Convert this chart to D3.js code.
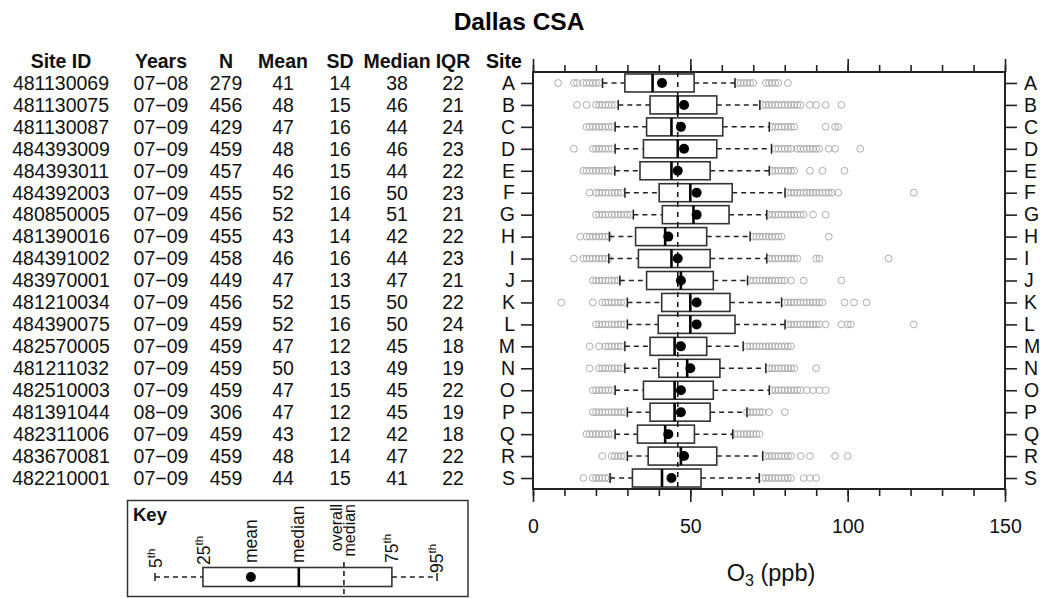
<!DOCTYPE html>
<html>
<head>
<meta charset="utf-8">
<script src="https://cdn.jsdelivr.net/npm/d3@7"></script>
<style>
  html, body { margin: 0; padding: 0; background: #fff; }
  svg { display: block; }
</style>
</head>
<body>
<script>
// ---------------- DATA ----------------
const sites = ["A","B","C","D","E","F","G","H","I","J","K","L","M","N","O","P","Q","R","S"];
const siteIds = ["481130069","481130075","481130087","484393009","484393011","484392003","480850005","481390016","484391002","483970001","481210034","484390075","482570005","481211032","482510003","481391044","482311006","483670081","482210001"];
const years = ["07\u221208","07\u221209","07\u221209","07\u221209","07\u221209","07\u221209","07\u221209","07\u221209","07\u221209","07\u221209","07\u221209","07\u221209","07\u221209","07\u221209","07\u221209","08\u221209","07\u221209","07\u221209","07\u221209"];
const nObs = [279,456,429,459,457,455,456,455,458,449,456,459,459,459,459,306,459,459,459];
const means = [41,48,47,48,46,52,52,43,46,47,52,52,47,50,47,47,43,48,44];
const sds = [14,15,16,16,15,16,14,14,16,13,15,16,12,13,15,12,12,14,15];
const medians = [38,46,44,46,44,50,51,42,44,47,50,50,45,49,45,45,42,47,41];
const iqrs = [22,21,24,23,22,23,21,22,23,21,22,24,18,19,22,19,18,22,22];
const q1 = [29.2,37.2,36.1,35.1,34,40.1,41.1,32.6,33.5,36.1,40.9,39.8,37.2,40,35.1,37.2,33.2,36.6,31.6];
const q3 = [51.2,58.4,60.3,58.4,56.3,63.3,62.3,55.2,56.3,57.3,62.6,64.2,55.2,59.4,57.3,56.3,51.3,58.4,53.4];
const p5 = [22.1,27.1,26.1,26.1,26,29.2,31.9,24.3,24.1,27.6,30,30,29.2,29.2,26.1,30,26.1,30,24.5];
const p95 = [64.2,72.1,75.1,75.8,75.1,80.1,74.3,69,74.3,68.2,79,80.1,66.8,74,75.1,68,63.5,73,71.9];
const lowOutliers = [
  [8,13,14,16,17,18,19,20,21],
  [14,17,20,21,22,23,24,25,26],
  [17,18,19,20,21,22,23,24,25],
  [13,19,20,21,22,23,24,25],
  [16,17,18,19,20,21,22,23,24,25],
  [18,20,21,22,23,24,25,26,27,28],
  [20,21,22,23,24,25,26,27,28,29,30,31],
  [15,17,18,19,20,21,22,23,24],
  [13,16,17,18,19,20,21,22,23,24],
  [19,20,21,22,23,24,25,26,27],
  [9,19,22,23,24,25,26,27,28,29],
  [20,21,22,23,24,25,26,27,28,29],
  [18,21,23,24,25,26,27,28],
  [18,21,22,23,24,25,26,27,28],
  [19,20,21,22,23,24,25],
  [19,20,21,22,23,24,25,26,27,28,29],
  [17,18,19,20,21,22,23,24,25],
  [22,25,26,27,28,29],
  [16,19,20,21,22,23,24]
];
const highOutliers = [
  [65,66,67,68,69,70,74,75,76,77,78,81],
  [73,74,75,76,77,78,79,80,81,82,83,84,85,88,90,93,98],
  [76,77,78,79,80,81,82,83,93,96,97],
  [77,78,79,80,81,82,84,85,86,87,88,89,90,91,94,96,104],
  [76,77,78,79,80,81,82,83,88,92,99],
  [81,82,83,84,85,86,87,88,89,90,91,92,93,94,95,97,121],
  [75,76,77,78,79,80,81,82,83,84,85,86,89,93],
  [70,71,72,73,74,75,76,77,78,79,94],
  [75,76,77,78,79,80,81,82,83,84,90,91,113],
  [69,70,71,72,73,74,75,76,77,78,79,80,82,86,98],
  [80,81,82,83,84,85,86,87,88,89,90,91,92,99,102,106],
  [81,82,83,84,85,86,87,88,89,90,91,93,98,100,101,121],
  [68,69,70,71,72,73,74,75,76,77,78,79,80,81,82],
  [75,76,77,78,79,80,81,82,83,90],
  [76,77,78,79,80,81,82,83,84,85,87,89,91,93],
  [68,69,70,71,72,73,75,80],
  [64,65,66,67,68,69,70,71,72],
  [74,75,76,77,78,79,80,81,82,85,88,96,100],
  [73,74,75,76,77,78,79,80,81,82,86,88,90]
];
const overallMedian = 46;
const headers = ["Site ID","Years","N","Mean","SD","Median","IQR"];
const xMajorTicks = [0,50,100,150];
const xMinorTicks = [0,10,20,30,40,50,60,70,80,90,100,110,120,130,140,150];
// key (schematic positions on a 0-100 key scale)
const keyNames = ["p5","p25","mean","median","overall","p75","p95"];
const keyVals = [0,17,34,51,67,84,100];

// ---------------- SETUP ----------------
const FONT = "'Liberation Sans', Arial, Helvetica, sans-serif";
const W = 1040, H = 598;
const svg = d3.select("body").append("svg").attr("width", W).attr("height", H)
  .attr("font-family", FONT);

const plot = {left: 533, right: 1005, top: 72, bottom: 489};
const x = d3.scaleLinear().domain([0,150]).range([plot.left, plot.right]);
const y = d3.scalePoint().domain(sites).range([plot.top, plot.bottom]).padding(0.5);

const stats = sites.map((s,i) => ({
  site: s, p5: p5[i], q1: q1[i], med: medians[i], mean: means[i], q3: q3[i], p95: p95[i],
  low: lowOutliers[i], high: highOutliers[i]
}));

// Title
svg.append("text").attr("x", 519).attr("y", 30).attr("text-anchor","middle")
  .attr("font-size", 24.5).attr("font-weight","bold").attr("fill","#000").text("Dallas CSA");

// ---------------- TABLE ----------------
const colX = [61, 161, 226, 283, 340, 397, 453];
const table = svg.append("g").attr("font-size", 19.5).attr("fill", "#111");
table.selectAll("text.hdr").data(headers).join("text").attr("class","hdr")
  .attr("x", (d,i) => colX[i]).attr("y", 68).attr("text-anchor","middle")
  .attr("font-weight","bold").text(d => d);
const cols = [siteIds, years, nObs, means, sds, medians, iqrs];
cols.forEach((arr, ci) => {
  table.selectAll("text.c" + ci).data(arr).join("text").attr("class", "c" + ci)
    .attr("x", colX[ci]).attr("y", (d,i) => y(sites[i])).attr("dy","0.35em")
    .attr("text-anchor","middle").text(d => d);
});
svg.append("text").attr("x", 486).attr("y", 68).attr("font-size", 19.5)
  .attr("font-weight","bold").text("Site");

// ---------------- AXES ----------------
function styleAxis(g) {
  g.select(".domain").remove();
  g.selectAll(".tick line").attr("stroke", "#222").attr("stroke-width", 1.6);
  g.attr("font-family", FONT).attr("font-size", 19.5);
  g.selectAll(".tick text").attr("fill", "#111");
}
svg.append("g").attr("transform", `translate(0,${plot.bottom})`)
  .call(d3.axisBottom(x).tickValues(xMinorTicks).tickSize(7).tickFormat(""))
  .call(styleAxis);
svg.append("g").attr("transform", `translate(0,${plot.bottom})`)
  .call(d3.axisBottom(x).tickValues(xMajorTicks).tickSize(13).tickPadding(17).tickFormat(d3.format("d")))
  .call(styleAxis);
svg.append("g").attr("transform", `translate(0,${plot.top})`)
  .call(d3.axisTop(x).tickValues(xMinorTicks).tickSize(7).tickFormat(""))
  .call(styleAxis);
svg.append("g").attr("transform", `translate(0,${plot.top})`)
  .call(d3.axisTop(x).tickValues(xMajorTicks).tickSize(13).tickFormat(""))
  .call(styleAxis);
svg.append("g").attr("transform", `translate(${plot.left},0)`)
  .call(d3.axisLeft(y).tickSize(12).tickPadding(6))
  .call(styleAxis);
svg.append("g").attr("transform", `translate(${plot.right},0)`)
  .call(d3.axisRight(y).tickSize(12).tickPadding(7))
  .call(styleAxis);

// Axis title
const xt = svg.append("text").attr("x", (plot.left + plot.right) / 2 + 2).attr("y", 581)
  .attr("text-anchor","middle").attr("font-size", 23.5).attr("fill","#111");
xt.append("tspan").text("O");
xt.append("tspan").attr("font-size", 16).attr("dy", 5).text("3");
xt.append("tspan").attr("dy", -5).text(" (ppb)");

// ---------------- BOXPLOTS ----------------
const bp = svg.append("g");
const boxH = 18;
// outliers
stats.forEach(d => {
  bp.append("g").selectAll("circle").data(d.low.concat(d.high)).join("circle")
    .attr("cx", v => x(v)).attr("cy", y(d.site)).attr("r", 3.4)
    .attr("fill", "none").attr("stroke", "#adadad").attr("stroke-width", 1);
});
// whiskers
const rows = bp.selectAll("g.row").data(stats).join("g").attr("class","row");
rows.append("line").attr("x1", d => x(d.p5)).attr("x2", d => x(d.q1))
  .attr("y1", d => y(d.site)).attr("y2", d => y(d.site))
  .attr("stroke","#222").attr("stroke-width",1.5).attr("stroke-dasharray","5,4");
rows.append("line").attr("x1", d => x(d.q3)).attr("x2", d => x(d.p95))
  .attr("y1", d => y(d.site)).attr("y2", d => y(d.site))
  .attr("stroke","#222").attr("stroke-width",1.5).attr("stroke-dasharray","5,4");
rows.append("line").attr("x1", d => x(d.p5)).attr("x2", d => x(d.p5))
  .attr("y1", d => y(d.site) - 5).attr("y2", d => y(d.site) + 5)
  .attr("stroke","#222").attr("stroke-width",1.5);
rows.append("line").attr("x1", d => x(d.p95)).attr("x2", d => x(d.p95))
  .attr("y1", d => y(d.site) - 5).attr("y2", d => y(d.site) + 5)
  .attr("stroke","#222").attr("stroke-width",1.5);
// boxes
rows.append("rect").attr("x", d => x(d.q1)).attr("width", d => x(d.q3) - x(d.q1))
  .attr("y", d => y(d.site) - boxH/2).attr("height", boxH)
  .attr("fill","#fff").attr("stroke","#333").attr("stroke-width",1.6);
// overall median
bp.append("line").attr("x1", x(overallMedian)).attr("x2", x(overallMedian))
  .attr("y1", plot.top).attr("y2", plot.bottom)
  .attr("stroke","#111").attr("stroke-width",1.5).attr("stroke-dasharray","5,5");
// medians
rows.append("line").attr("x1", d => x(d.med)).attr("x2", d => x(d.med))
  .attr("y1", d => y(d.site) - boxH/2).attr("y2", d => y(d.site) + boxH/2)
  .attr("stroke","#000").attr("stroke-width",2.6);
// means
rows.append("circle").attr("cx", d => x(d.mean)).attr("cy", d => y(d.site)).attr("r", 5)
  .attr("fill","#000");

// frame
svg.append("rect").attr("x", plot.left).attr("y", plot.top)
  .attr("width", plot.right - plot.left).attr("height", plot.bottom - plot.top)
  .attr("fill","none").attr("stroke","#222").attr("stroke-width",2);

// ---------------- KEY ----------------
const key = svg.append("g");
key.append("rect").attr("x", 127.5).attr("y", 500.5).attr("width", 340.5).attr("height", 96)
  .attr("fill","#fff").attr("stroke","#333").attr("stroke-width",1.5);
key.append("text").attr("x", 133).attr("y", 521).attr("font-size", 18.5).attr("font-weight","bold")
  .attr("fill","#111").text("Key");
const kx = d3.scaleLinear().domain([0,100]).range([155, 437]);
const K = {}; keyNames.forEach((n,i) => K[n] = keyVals[i]);
const ky = 577, kH = 19;
key.append("line").attr("x1", kx(K.p5)).attr("x2", kx(K.p25)).attr("y1", ky).attr("y2", ky)
  .attr("stroke","#222").attr("stroke-width",1.5).attr("stroke-dasharray","5,4");
key.append("line").attr("x1", kx(K.p75)).attr("x2", kx(K.p95)).attr("y1", ky).attr("y2", ky)
  .attr("stroke","#222").attr("stroke-width",1.5).attr("stroke-dasharray","5,4");
[K.p5, K.p95].forEach(v => key.append("line").attr("x1", kx(v)).attr("x2", kx(v))
  .attr("y1", ky - 4).attr("y2", ky + 4).attr("stroke","#222").attr("stroke-width",1.5));
key.append("rect").attr("x", kx(K.p25)).attr("width", kx(K.p75) - kx(K.p25))
  .attr("y", ky - kH/2).attr("height", kH).attr("fill","#fff").attr("stroke","#333").attr("stroke-width",1.6);
key.append("line").attr("x1", kx(K.overall)).attr("x2", kx(K.overall)).attr("y1", 562).attr("y2", 595)
  .attr("stroke","#111").attr("stroke-width",1.5).attr("stroke-dasharray","5,4");
key.append("line").attr("x1", kx(K.median)).attr("x2", kx(K.median)).attr("y1", ky - kH/2).attr("y2", ky + kH/2)
  .attr("stroke","#000").attr("stroke-width",2.6);
key.append("circle").attr("cx", kx(K.mean)).attr("cy", ky).attr("r", 5).attr("fill","#000");

function vlabel(xb, yb, parts) {
  const t = key.append("text").attr("transform", `translate(${xb},${yb}) rotate(-90)`)
    .attr("font-size", 17.5).attr("fill", "#111");
  parts.forEach(p => {
    const ts = t.append("tspan").text(p.t);
    if (p.sup) ts.attr("font-size", 11.5).attr("dy", -7);
  });
  return t;
}
vlabel(kx(K.p5) + 7, 568, [{t:"5"},{t:"th", sup:true}]);
vlabel(kx(K.p25) + 7, 565, [{t:"25"},{t:"th", sup:true}]);
vlabel(kx(K.mean) + 6, 563, [{t:"mean"}]);
vlabel(kx(K.median) + 5, 563, [{t:"median"}]);
key.append("text").attr("transform", `translate(${kx(K.overall) - 2},504) rotate(-90)`)
  .attr("text-anchor","end").attr("font-size", 16).attr("fill","#111").text("overall");
key.append("text").attr("transform", `translate(${kx(K.overall) + 11},504) rotate(-90)`)
  .attr("text-anchor","end").attr("font-size", 16).attr("fill","#111").text("median");
vlabel(kx(K.p75) + 6, 563, [{t:"75"},{t:"th", sup:true}]);
vlabel(kx(K.p95) + 6, 573, [{t:"95"},{t:"th", sup:true}]);
</script>
</body>
</html>
